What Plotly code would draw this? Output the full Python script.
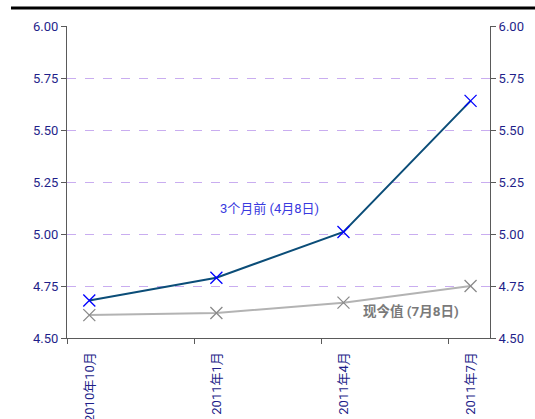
import plotly.graph_objects as go

# Quarterly observation labels
quarters = ["2010年10月", "2011年1月", "2011年4月", "2011年7月"]
# Forward curve three months earlier (Apr 8) and the current one (Jul 8)
three_months_ago = [4.68, 4.79, 5.01, 5.64]
current_values = [4.61, 4.62, 4.67, 4.75]
series_names = ["3个月前 (4月8日)", "现今值 (7月8日)"]
y_ticks = [4.50, 4.75, 5.00, 5.25, 5.50, 5.75, 6.00]

xpos = list(range(len(quarters)))
x_range = [-0.1755, 3.153]
boundary_ticks = [x_range[0] + k for k in range(len(quarters))]

font_family = "Roboto, 'Noto Sans CJK SC', sans-serif"
tick_color = "#1f1f8a"
axis_color = "#5a5a5a"

fig = go.Figure()

fig.add_trace(go.Scatter(
    x=xpos, y=three_months_ago, name=series_names[0], mode="lines+markers",
    line=dict(color="#0b4d78", width=2),
    marker=dict(symbol="x-thin", size=12, line=dict(color="#0000ff", width=1.3)),
    showlegend=False,
))
fig.add_trace(go.Scatter(
    x=xpos, y=current_values, name=series_names[1], mode="lines+markers",
    line=dict(color="#b3b3b3", width=2),
    marker=dict(symbol="x-thin", size=12, line=dict(color="#8a8a8a", width=1.3)),
    showlegend=False,
))
# right-hand axis carrier
fig.add_trace(go.Scatter(x=[xpos[0]], y=[y_ticks[0]], yaxis="y2", mode="markers",
                         marker=dict(opacity=0), showlegend=False, hoverinfo="skip"))
# boundary tick carrier
fig.add_trace(go.Scatter(x=[xpos[0]], y=[y_ticks[0]], xaxis="x2", mode="markers",
                         marker=dict(opacity=0), showlegend=False, hoverinfo="skip"))

fig.update_layout(
    width=535, height=419,
    margin=dict(l=67, r=45, t=26, b=81),
    paper_bgcolor="white", plot_bgcolor="white",
    font=dict(family=font_family, size=13, color=tick_color),
    xaxis=dict(
        range=x_range, tickvals=xpos, ticktext=quarters, tickangle=-90,
        ticks="", showgrid=False, zeroline=False, ticklabelstandoff=8,
        automargin=False,
        showline=True, linecolor=axis_color, linewidth=1,
        tickfont=dict(size=13, color=tick_color),
    ),
    xaxis2=dict(
        range=x_range, overlaying="x", anchor="y", side="bottom",
        tickvals=boundary_ticks, showticklabels=False, automargin=False,
        ticks="outside", ticklen=5, tickcolor=axis_color,
        showgrid=False, zeroline=False, showline=False,
    ),
    yaxis=dict(
        range=[4.5, 6.0], tickvals=y_ticks, tickformat=".2f", automargin=False,
        ticks="outside", ticklen=5, tickcolor=axis_color,
        showline=True, linecolor=axis_color, linewidth=1,
        showgrid=True, gridcolor="#c9adf0", griddash="dash", gridwidth=1,
        zeroline=False, tickfont=dict(size=13, color=tick_color),
    ),
    yaxis2=dict(
        range=[4.5, 6.0], tickvals=y_ticks, tickformat=".2f", automargin=False,
        overlaying="y", side="right", anchor="x",
        ticks="outside", ticklen=5, tickcolor=axis_color,
        showline=True, linecolor=axis_color, linewidth=1,
        showgrid=False, zeroline=False, tickfont=dict(size=13, color=tick_color),
    ),
    shapes=[dict(type="line", xref="paper", yref="paper",
                 x0=-0.1324, x1=1.11, y0=1.0577, y1=1.0577,
                 line=dict(color="black", width=3))],
    annotations=[
        dict(x=1.414, y=5.124, xref="x", yref="y", text=series_names[0],
             showarrow=False, font=dict(size=13, color="#3a3ae0")),
        dict(x=2.53, y=4.628, xref="x", yref="y", text="<b>" + series_names[1] + "</b>",
             showarrow=False, font=dict(size=13.5, color="#7a7a7a")),
    ],
)

fig.write_html("out.html")
